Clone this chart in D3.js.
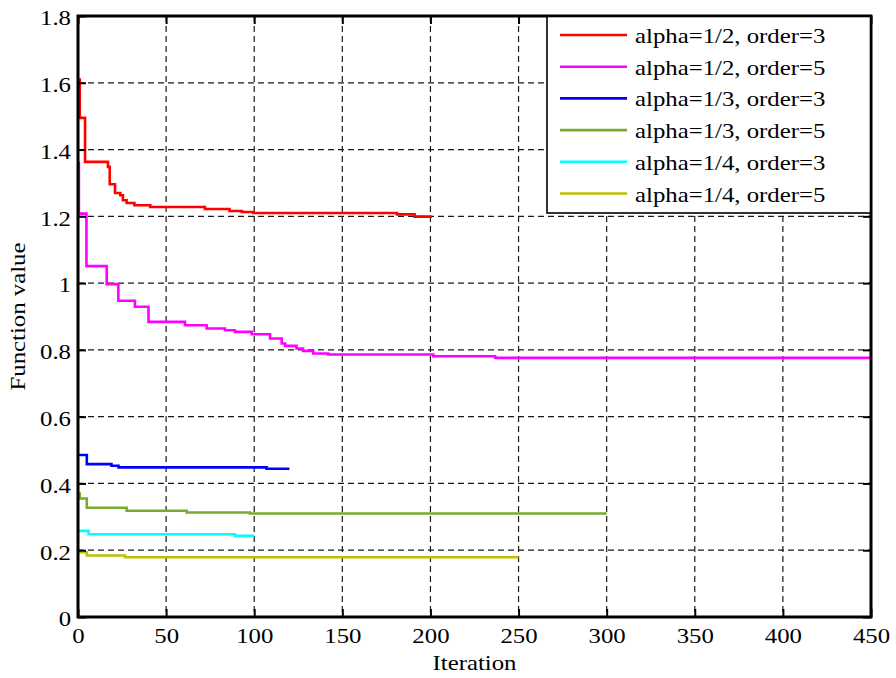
<!DOCTYPE html>
<html>
<head>
<meta charset="utf-8">
<script src="https://cdn.jsdelivr.net/npm/d3@7/dist/d3.min.js"></script>
<style>
  html, body { margin: 0; padding: 0; background: #fff; }
  svg { display: block; font-family: "Liberation Serif", "Times New Roman", serif; }
</style>
</head>
<body>
<svg id="chart" width="896" height="678"></svg>
<script>
// Convergence curves: each series is a list of [iteration, value] steps
const seriesNames = [
  "alpha=1/2, order=3",
  "alpha=1/2, order=5",
  "alpha=1/3, order=3",
  "alpha=1/3, order=5",
  "alpha=1/4, order=3",
  "alpha=1/4, order=5"
];
const seriesColors = ["#ff0000", "#ff00ff", "#0000ff", "#77ac30", "#00ffff", "#bfbf00"];

const red12_3 = [[0,1.61],[1,1.495],[4,1.363],[15,1.363],[17,1.348],[18,1.296],[21,1.27],[24,1.263],[25.5,1.248],[27.6,1.24],[32,1.233],[41,1.228],[72,1.222],[86,1.216],[93,1.213],[99.5,1.210],[181,1.206],[191,1.199],[200,1.195]];
const mag12_5 = [[0,1.36],[0.5,1.208],[4.8,1.051],[16.3,0.997],[22.9,0.947],[32.3,0.929],[40,0.884],[60.7,0.874],[73,0.864],[83.4,0.859],[89,0.854],[98.6,0.847],[109,0.834],[115.6,0.819],[117.5,0.812],[124,0.804],[127.7,0.797],[133.5,0.789],[142,0.786],[201.6,0.781],[236.7,0.776],[450,0.776]];
const blu13_3 = [[0,0.485],[5,0.458],[19,0.453],[23,0.448],[107,0.444],[120,0.444]];
const grn13_5 = [[0,0.37],[1,0.355],[5,0.327],[27.6,0.318],[61.7,0.313],[97.6,0.310],[300,0.310]];
const cyn14_3 = [[0,0.258],[6,0.248],[89,0.243],[100,0.243]];
const yel14_5 = [[0,0.194],[5,0.184],[26.7,0.179],[250,0.179]];
const seriesData = [red12_3, mag12_5, blu13_3, grn13_5, cyn14_3, yel14_5];

const xTicks = [0, 50, 100, 150, 200, 250, 300, 350, 400, 450];
const yTicks = [0, 0.2, 0.4, 0.6, 0.8, 1, 1.2, 1.4, 1.6, 1.8];
const xTitle = "Iteration";
const yTitle = "Function value";

const svg = d3.select("#chart");
const L = 78, R = 871, T = 16, B = 617;
const x = d3.scaleLinear().domain([0, 450]).range([L, R]);
const y = d3.scaleLinear().domain([0, 1.8]).range([B, T]);
const FS = 21, WIDEN = 1.18;

function widen(sel) {
  sel.each(function () {
    const w = this.getComputedTextLength();
    this.setAttribute("textLength", w * WIDEN);
    this.setAttribute("lengthAdjust", "spacingAndGlyphs");
  });
}

// dashed grid
const grid = svg.append("g").attr("class", "grid");
grid.selectAll("line.gx").data(xTicks.slice(1, -1)).join("line")
  .attr("x1", d => x(d)).attr("x2", d => x(d)).attr("y1", T).attr("y2", B);
grid.selectAll("line.gy").data(yTicks.slice(1, -1)).join("line")
  .attr("y1", d => y(d)).attr("y2", d => y(d)).attr("x1", L).attr("x2", R);
grid.selectAll("line").attr("stroke", "#1a1a1a").attr("stroke-width", 1.2)
  .attr("stroke-dasharray", "6,4");

// series lines
const line = d3.line().x(d => x(d[0])).y(d => y(d[1])).curve(d3.curveStepAfter);
svg.append("g").selectAll("path").data(seriesData).join("path")
  .attr("d", line).attr("fill", "none")
  .attr("stroke", (d, i) => seriesColors[i]).attr("stroke-width", 2.6)
  .attr("stroke-linejoin", "miter");

// axes with inward ticks
const axB = svg.append("g").attr("transform", `translate(0,${B})`)
  .call(d3.axisBottom(x).tickValues(xTicks).tickSize(-8).tickPadding(11).tickFormat(d3.format("d")));
const axL = svg.append("g").attr("transform", `translate(${L},0)`)
  .call(d3.axisLeft(y).tickValues(yTicks).tickSize(-8).tickPadding(7).tickFormat(d => String(d)));
svg.append("g").attr("transform", `translate(0,${T})`)
  .call(d3.axisTop(x).tickValues(xTicks).tickSize(-8).tickFormat(""));
svg.append("g").attr("transform", `translate(${R},0)`)
  .call(d3.axisRight(y).tickValues(yTicks).tickSize(-8).tickFormat(""));
svg.selectAll(".domain").remove();
svg.selectAll(".tick line").attr("stroke", "#000").attr("stroke-width", 2);
svg.selectAll(".tick text").attr("font-size", FS).attr("fill", "#000")
  .attr("font-family", "Liberation Serif, Times New Roman, serif");
axL.selectAll(".tick text").attr("dy", "0.42em");
widen(svg.selectAll(".tick text"));

// frame
svg.append("rect").attr("x", L).attr("y", T).attr("width", R - L).attr("height", B - T)
  .attr("fill", "none").attr("stroke", "#000").attr("stroke-width", 2.6);

// axis titles
svg.append("text").attr("x", (L + R) / 2 + 0).attr("y", 670).attr("text-anchor", "middle")
  .attr("font-size", FS).text(xTitle).call(widen);
svg.append("text").attr("transform", `translate(25,${(T + B) / 2}) rotate(-90)`)
  .attr("text-anchor", "middle").attr("font-size", FS).text(yTitle).call(widen);

// legend
const lg = svg.append("g");
lg.append("rect").attr("x", 547).attr("y", T).attr("width", R - 547).attr("height", 213 - T)
  .attr("fill", "#fff").attr("stroke", "#000").attr("stroke-width", 1.6);
const rows = lg.selectAll("g.row").data(seriesNames).join("g")
  .attr("transform", (d, i) => `translate(0,${35 + i * 31.7})`);
rows.append("line").attr("x1", 560).attr("x2", 627).attr("y1", 0).attr("y2", 0)
  .attr("stroke", (d, i) => seriesColors[i]).attr("stroke-width", 2.6);
rows.append("text").attr("x", 635).attr("y", 8).attr("font-size", FS).text(d => d).call(widen);
// redraw right/top frame edges over legend box
svg.append("rect").attr("x", L).attr("y", T).attr("width", R - L).attr("height", B - T)
  .attr("fill", "none").attr("stroke", "#000").attr("stroke-width", 2.6);
</script>
</body>
</html>
